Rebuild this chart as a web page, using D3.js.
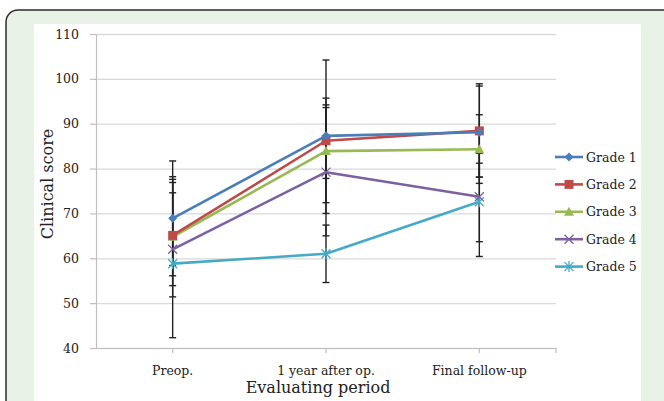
<!DOCTYPE html>
<html>
<head>
<meta charset="utf-8">
<script src="https://cdn.jsdelivr.net/npm/d3@7"></script>
<style>
  body { margin: 0; background: #fff; }
  svg { display: block; font-family: "DejaVu Serif", serif; }
  .tickLabel { font-size: 12.5px; fill: #222; font-family: "DejaVu Serif", serif; }
</style>
</head>
<body>
<div id="chart"></div>
<script>
// categories and series
const categories = ["Preop.", "1 year after op.", "Final follow-up"];
const grades = ["Grade 1", "Grade 2", "Grade 3", "Grade 4", "Grade 5"];
const yTicks = [40, 50, 60, 70, 80, 90, 100, 110];

const grade1 = [68.9, 87.3, 88.1];
const grade2 = [65.1, 86.2, 88.4];
const grade3 = [64.8, 83.9, 84.3];
const grade4 = [62.0, 79.2, 73.7];
const grade5 = [58.8, 61.0, 72.6];

// error bar ends (low / high)
const grade1Low = [56.1, 70.0, 78.1], grade1High = [81.7, 104.2, 98.9];
const grade2Low = [53.9, 77.8, 78.1], grade2High = [78.2, 95.7, 98.4];
const grade3Low = [58.4, 72.4, 76.7], grade3High = [77.6, 94.2, 92.0];
const grade4Low = [51.4, 65.0, 63.7], grade4High = [74.6, 93.6, 83.4];
const grade5Low = [42.3, 54.6, 60.4], grade5High = [76.9, 67.4, 81.2];

const series = [
    {name: grades[0], values: grade1, low: grade1Low, high: grade1High, color: "#4a7ebb", marker: "diamond"},
    {name: grades[1], values: grade2, low: grade2Low, high: grade2High, color: "#be4b48", marker: "square"},
    {name: grades[2], values: grade3, low: grade3Low, high: grade3High, color: "#98b954", marker: "triangle"},
    {name: grades[3], values: grade4, low: grade4Low, high: grade4High, color: "#7d60a0", marker: "cross"},
    {name: grades[4], values: grade5, low: grade5Low, high: grade5High, color: "#46aac5", marker: "star"}
];

const W = 664, H = 401;
const plot = {left: 96, right: 556, top: 34, bottom: 348};

const svg = d3.select("#chart").append("svg")
    .attr("width", W)
    .attr("height", H);

// frame
svg.append("rect")
    .attr("x", 6).attr("y", 10)
    .attr("width", 700).attr("height", 440)
    .attr("rx", 12)
    .attr("fill", "#e9f2e7")
    .attr("stroke", "#2b2b2b")
    .attr("stroke-width", 1.5);
svg.append("rect")
    .attr("x", 34).attr("y", 24)
    .attr("width", 607).attr("height", 400)
    .attr("fill", "#fff");

const x = d3.scaleBand().domain(categories).range([plot.left, plot.right]);
const y = d3.scaleLinear().domain([40, 110]).range([plot.bottom, plot.top]);
const cx = d => x(d) + x.bandwidth() / 2;

function styleAxis(g) {
    g.attr("font-family", null).attr("font-size", null);
    g.select(".domain").attr("stroke", "#bfbfbf").attr("stroke-width", 1.2);
    g.selectAll("line").attr("stroke", "#bfbfbf").attr("stroke-width", 1.2);
    g.selectAll("text").attr("class", "tickLabel");
}

// gridlines
svg.append("g")
    .attr("transform", `translate(${plot.left},0)`)
    .call(d3.axisLeft(y).tickValues(yTicks).tickSize(-(plot.right - plot.left)).tickFormat(""))
    .call(g => g.select(".domain").remove())
    .call(g => g.selectAll("line").attr("stroke", "#d9d9d9").attr("stroke-width", 1.3));

// y axis
svg.append("g")
    .attr("transform", `translate(${plot.left},0)`)
    .call(d3.axisLeft(y).tickValues(yTicks).tickSize(6).tickSizeOuter(0).tickPadding(11))
    .call(styleAxis);

// x axis
svg.append("g")
    .attr("transform", `translate(0,${plot.bottom})`)
    .call(d3.axisBottom(x).tickSize(5).tickSizeOuter(0).tickPadding(13))
    .call(styleAxis);
svg.append("line")
    .attr("x1", plot.right).attr("x2", plot.right)
    .attr("y1", plot.bottom).attr("y2", plot.bottom + 5)
    .attr("stroke", "#bfbfbf").attr("stroke-width", 1.2);

// axis titles
svg.append("text")
    .attr("x", 318).attr("y", 393)
    .attr("text-anchor", "middle")
    .attr("font-size", 16).attr("fill", "#222")
    .text("Evaluating period");
svg.append("text")
    .attr("transform", "translate(53,184) rotate(-90)")
    .attr("text-anchor", "middle")
    .attr("font-size", 16).attr("fill", "#222")
    .text("Clinical score");

// error bars
const errG = svg.append("g");
series.forEach(s => {
    categories.forEach((c, i) => {
        const xx = cx(c);
        errG.append("line")
            .attr("x1", xx).attr("x2", xx)
            .attr("y1", y(s.low[i])).attr("y2", y(s.high[i]))
            .attr("stroke", "#222").attr("stroke-width", 1.4);
        [s.low[i], s.high[i]].forEach(v => {
            errG.append("line")
                .attr("x1", xx - 3.5).attr("x2", xx + 3.5)
                .attr("y1", y(v)).attr("y2", y(v))
                .attr("stroke", "#222").attr("stroke-width", 1.4);
        });
    });
});

function drawMarker(g, type, color) {
    if (type === "diamond") {
        g.append("path").attr("d", "M0,-4.5L4.5,0L0,4.5L-4.5,0Z").attr("fill", color);
    } else if (type === "square") {
        g.append("rect").attr("x", -4.5).attr("y", -4.5).attr("width", 9).attr("height", 9).attr("fill", color);
    } else if (type === "triangle") {
        g.append("path").attr("d", "M0,-5L5,4L-5,4Z").attr("fill", color);
    } else if (type === "cross") {
        g.append("path").attr("d", "M-4.5,-4.5L4.5,4.5M4.5,-4.5L-4.5,4.5")
            .attr("stroke", color).attr("stroke-width", 1.3).attr("fill", "none");
    } else {
        g.append("path").attr("d", "M-4.5,-4.5L4.5,4.5M4.5,-4.5L-4.5,4.5M0,-5.5L0,5.5")
            .attr("stroke", color).attr("stroke-width", 1.3).attr("fill", "none");
    }
}

const line = d3.line().x(d => cx(d.c)).y(d => y(d.v));

// lines and markers
series.slice().reverse().forEach(s => {
    const pts = categories.map((c, i) => ({c: c, v: s.values[i]}));
    svg.append("path")
        .datum(pts)
        .attr("d", line)
        .attr("fill", "none")
        .attr("stroke", s.color)
        .attr("stroke-width", 2.6)
        .attr("stroke-linejoin", "round");
    pts.forEach(p => {
        const g = svg.append("g").attr("transform", `translate(${cx(p.c)},${y(p.v)})`);
        drawMarker(g, s.marker, s.color);
    });
});

// legend
const legend = svg.append("g").attr("transform", "translate(555,157)");
series.forEach((s, i) => {
    const row = legend.append("g").attr("transform", `translate(0,${i * 27.4})`);
    row.append("line")
        .attr("x1", 0).attr("x2", 28)
        .attr("stroke", s.color).attr("stroke-width", 2.6);
    drawMarker(row.append("g").attr("transform", "translate(14,0)"), s.marker, s.color);
    row.append("text")
        .attr("x", 31).attr("y", 4.5)
        .attr("class", "tickLabel")
        .text(s.name);
});
</script>
</body>
</html>
